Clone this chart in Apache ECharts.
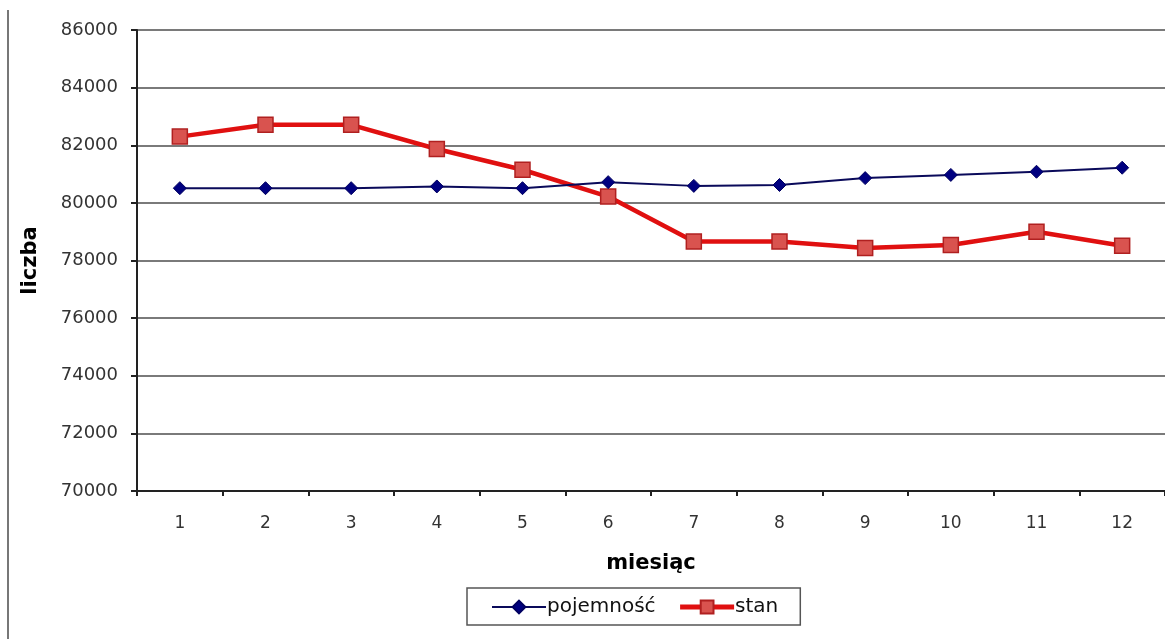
<!DOCTYPE html>
<html><head><meta charset="utf-8">
<script src="https://cdn.jsdelivr.net/npm/echarts@6/dist/echarts.min.js"></script>
<style>html,body{margin:0;padding:0;background:#fff}#c{width:1165px;height:639px}</style>
</head><body><div id="c"></div>
<script>
var categories = ['1','2','3','4','5','6','7','8','9','10','11','12'];
var pojemnosc = [80510, 80510, 80510, 80570, 80510, 80720, 80590, 80620, 80860, 80970, 81080, 81220];
var stan = [82300, 82710, 82710, 81870, 81150, 80220, 78660, 78660, 78430, 78540, 79000, 78510];
var seriesNames = ['pojemność', 'stan'];
var yMin = 70000, yMax = 86000, yStep = 2000;

var FONT = 'DejaVu Sans, Liberation Sans, Arial, sans-serif';
var chart = echarts.init(document.getElementById('c'));
chart.setOption({
  animation: false,
  textStyle: {fontFamily: FONT},
  grid: {left: 137, top: 30, width: 1032, height: 461, containLabel: false},
  xAxis: {
    type: 'category', data: categories, boundaryGap: true,
    name: 'miesiąc', nameLocation: 'middle', nameGap: 62,
    nameTextStyle: {fontSize: 21, fontWeight: 'bold', color: '#000', fontFamily: FONT},
    axisLine: {lineStyle: {color: '#222', width: 2}},
    axisTick: {show: true, length: 5, lineStyle: {color: '#222', width: 2}},
    axisLabel: {fontSize: 17, color: '#333', margin: 24}
  },
  yAxis: {
    type: 'value', min: yMin, max: yMax, interval: yStep,
    name: 'liczba', nameLocation: 'middle', nameGap: 96, nameRotate: 90,
    nameTextStyle: {fontSize: 21, fontWeight: 'bold', color: '#000', fontFamily: FONT},
    axisLine: {show: true, lineStyle: {color: '#222', width: 2}},
    axisTick: {show: true, length: 6, lineStyle: {color: '#222', width: 2}},
    axisLabel: {fontSize: 18, color: '#333', margin: 19, formatter: function (v) { return String(v); }},
    splitLine: {lineStyle: {color: '#7a7a7a', width: 2}}
  },
  legend: {
    left: 467, top: 588, width: 333, height: 39,
    data: [
      {name: seriesNames[0], lineStyle: {color: '#0a0a5a', width: 2}},
      {name: seriesNames[1], lineStyle: {color: '#e01010', width: 5}}
    ],
    itemWidth: 54, itemHeight: 16, itemGap: 22,
    padding: [9, 22, 8, 24],
    borderColor: '#555', borderWidth: 1.5, borderRadius: 0,
    textStyle: {fontSize: 20, color: '#111', padding: [0,0,0,-4]}
  },
  graphic: [{
    type: 'line', shape: {x1: 8, y1: 10, x2: 8, y2: 639},
    style: {stroke: '#777', lineWidth: 2}
  }],
  series: [
    {
      name: seriesNames[0], type: 'line', data: pojemnosc,
      symbol: 'diamond', symbolSize: 13,
      lineStyle: {color: '#0a0a5a', width: 2},
      itemStyle: {color: '#000080', borderColor: '#000060', borderWidth: 1},
      z: 3
    },
    {
      name: seriesNames[1], type: 'line', data: stan,
      symbol: 'rect', symbolSize: 15,
      lineStyle: {color: '#e01010', width: 4.5},
      itemStyle: {color: '#d9534f', borderColor: '#b02020', borderWidth: 1.5},
      z: 2
    }
  ]
});
</script></body></html>
